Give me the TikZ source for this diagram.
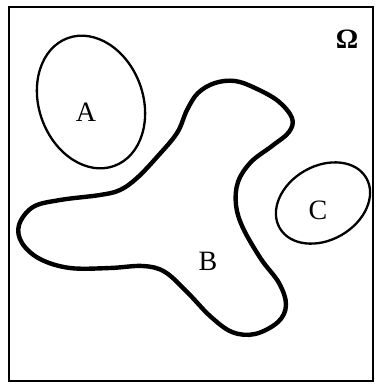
\documentclass[tikz,border=0pt]{standalone}
\usepackage{fontspec}
\setmainfont{Liberation Serif}
\begin{document}
\begin{tikzpicture}[x=1pt,y=-1pt,
  frame/.style={line width=2.4pt},
  thin set/.style={line width=2.3pt},
  thick set/.style={line width=4.4pt, line join=round},
  lbl/.style={font=\fontsize{28}{32}\selectfont, inner sep=0pt}]
\useasboundingbox (0,0) rectangle (376,384);
\draw[frame] (9,7) rectangle (373,381);
% A
\draw[thin set] (91,102) ellipse[x radius=52, y radius=68, rotate=20];
\node[lbl] (a) at (86,112) {A};
% C
\draw[thin set] (323,203) ellipse[x radius=50, y radius=37, rotate=30];
\node[lbl] (c) at (318,210) {C};
% B
\draw[thick set] plot[smooth cycle, tension=0.6] coordinates {
 (100,195) (120,190) (137,178) (157,157) (177,133) (187,110) (198,93)
 (215,83) (235,81) (255,88) (278,101) (292,118) (289,132) (272,146)
 (251,162) (238,182) (236,205) (243,228) (261,259) (279,283) (286,305)
 (278,322) (255,334) (232,332) (210,316) (188,293) (165,272) (143,266)
 (110,268) (70,268) (40,259) (22,243) (19,225) (33,207) (60,200)};
\node[lbl] (b) at (208,261) {B};
\node[lbl] (omega) at (347,39) {\textbf{Ω}};
\end{tikzpicture}
\end{document}
